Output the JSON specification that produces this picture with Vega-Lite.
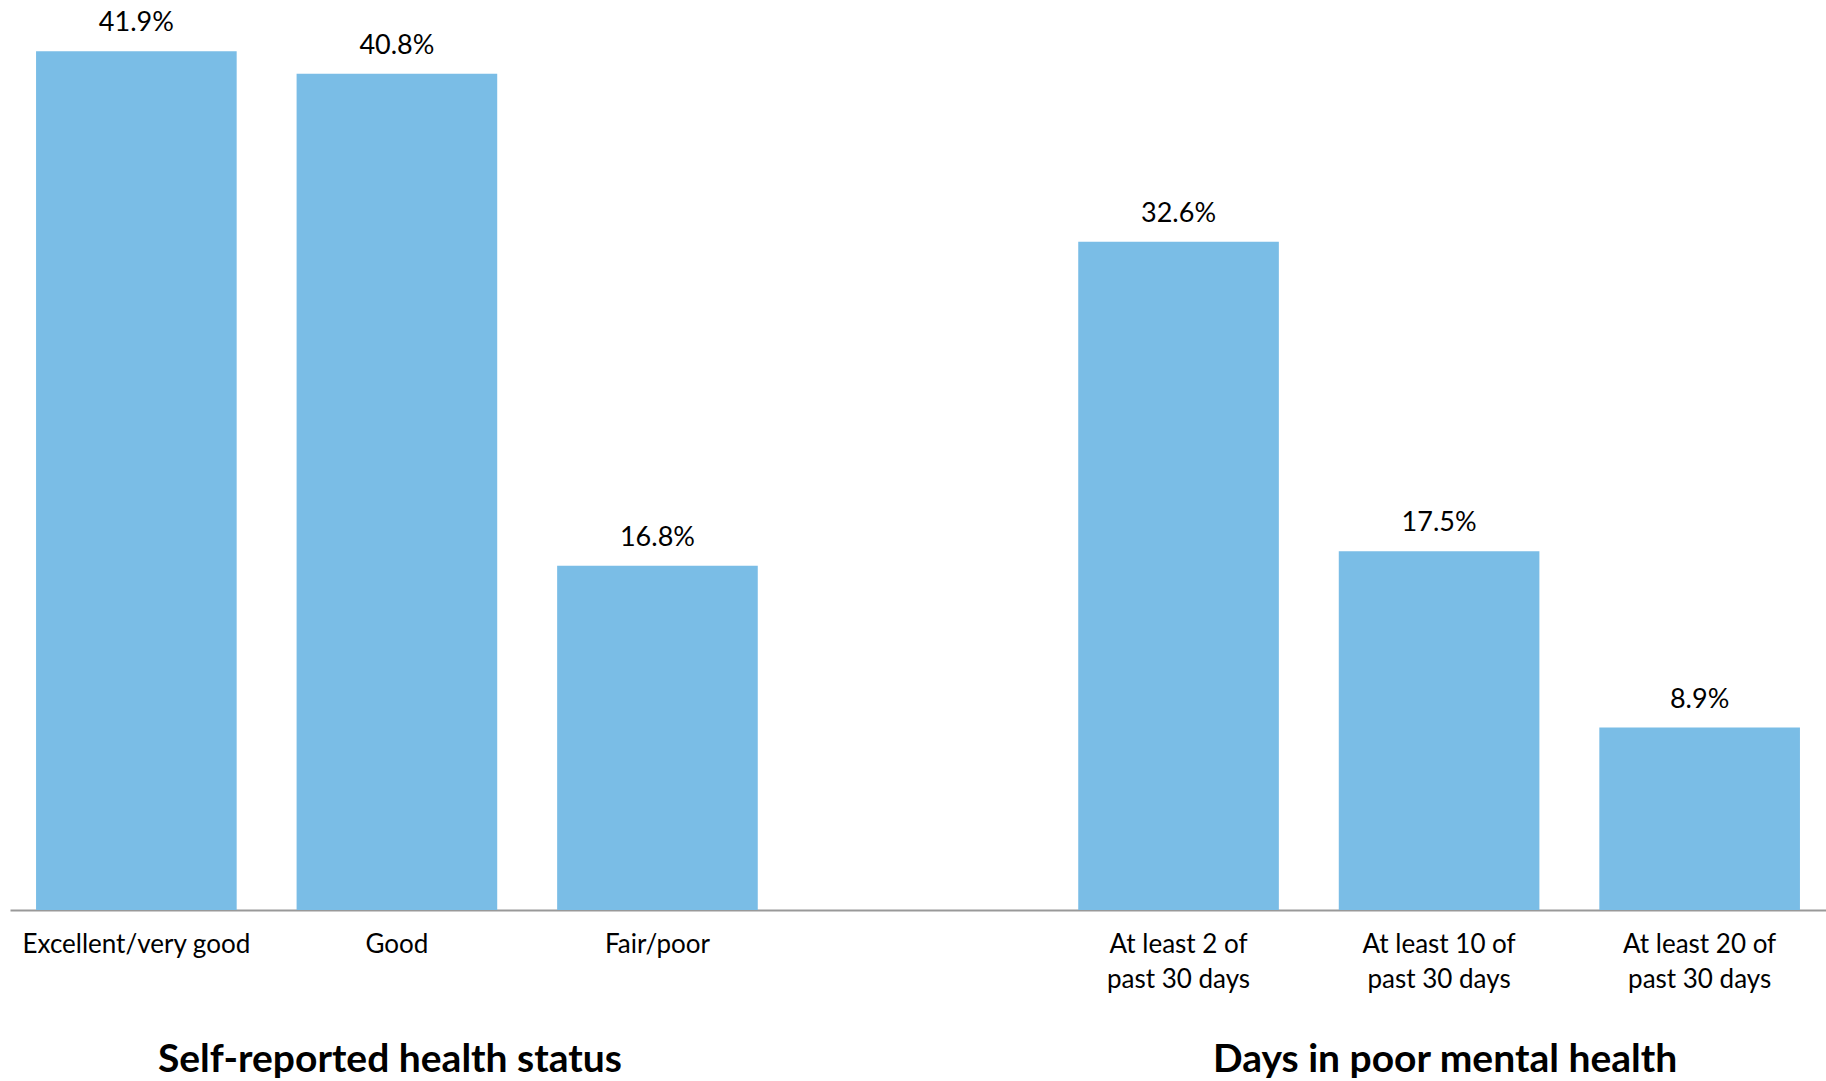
{
  "$schema": "https://vega.github.io/schema/vega-lite/v6.json",
  "width": 1816,
  "height": 910,
  "padding": {"left": 10, "top": 0, "right": 0, "bottom": 0},
  "background": "white",
  "config": {"view": {"stroke": null}, "font": "Lato"},
  "datasets": {
    "bars": [
      {"cat": "Excellent/very good", "pct": 0.419},
      {"cat": "Good", "pct": 0.408},
      {"cat": "Fair/poor", "pct": 0.168},
      {"cat": "At least 2 of|past 30 days", "pct": 0.326},
      {"cat": "At least 10 of|past 30 days", "pct": 0.175},
      {"cat": "At least 20 of|past 30 days", "pct": 0.089}
    ],
    "health": [
      {"cat": "Good", "title": "Self-reported health status"}
    ],
    "mental": [
      {"cat": "At least 10 of|past 30 days", "title": "Days in poor mental health"}
    ]
  },
  "encoding": {
    "x": {
      "field": "cat",
      "type": "nominal",
      "sort": null,
      "scale": {
        "domain": ["Excellent/very good", "Good", "Fair/poor", " ", "At least 2 of|past 30 days", "At least 10 of|past 30 days", "At least 20 of|past 30 days"],
        "paddingInner": 0.23,
        "paddingOuter": 0.1
      },
      "axis": {
        "title": null,
        "labelAngle": 0,
        "ticks": false,
        "labelPadding": 21,
        "labelFontSize": 26,
        "labelFont": "Lato",
        "labelColor": "#000000",
        "labelLineHeight": 35,
        "labelLimit": 0,
        "labelExpr": "split(datum.label, '|')",
        "domainColor": "#999999",
        "domainWidth": 2,
        "labelBaseline": "top"
      }
    }
  },
  "layer": [
    {
      "data": {"name": "bars"},
      "mark": {"type": "bar", "color": "#7ABDE6"},
      "encoding": {
        "y": {
          "field": "pct",
          "type": "quantitative",
          "scale": {"domain": [0, 0.444], "nice": false},
          "axis": null
        }
      }
    },
    {
      "data": {"name": "bars"},
      "mark": {"type": "text", "baseline": "bottom", "dy": -14, "fontSize": 27, "font": "Lato", "color": "#000000"},
      "encoding": {
        "y": {"field": "pct", "type": "quantitative"},
        "text": {"field": "pct", "type": "quantitative", "format": ".1%"}
      }
    },
    {
      "data": {"name": "health"},
      "mark": {"type": "text", "baseline": "middle", "dx": -7, "dy": 150, "fontSize": 39, "fontWeight": "bold", "font": "Lato", "color": "#000000"},
      "encoding": {
        "y": {"datum": 0, "type": "quantitative"},
        "text": {"field": "title"}
      }
    },
    {
      "data": {"name": "mental"},
      "mark": {"type": "text", "baseline": "middle", "dx": 6, "dy": 150, "fontSize": 39, "fontWeight": "bold", "font": "Lato", "color": "#000000"},
      "encoding": {
        "y": {"datum": 0, "type": "quantitative"},
        "text": {"field": "title"}
      }
    }
  ]
}
